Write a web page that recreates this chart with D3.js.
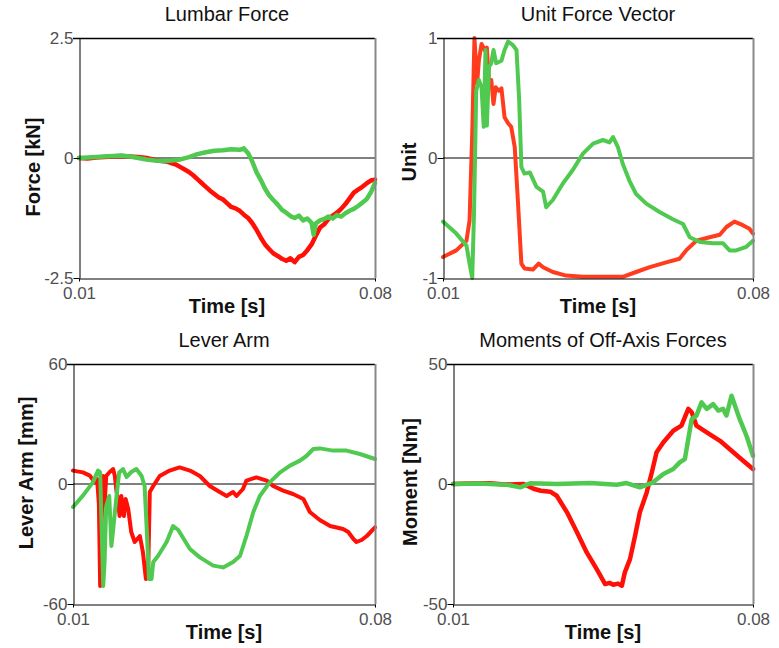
<!DOCTYPE html>
<html>
<head>
<meta charset="utf-8">
<script src="https://cdn.jsdelivr.net/npm/d3@7"></script>
<style>
    body { margin: 0; background: #fff; }
    text { font-family: "Liberation Sans", Arial, sans-serif; }
    .panel-title { font-size: 20px; fill: #111; }
    .axis-title { font-size: 20px; font-weight: bold; fill: #111; }
    .tick text { font-size: 17px; fill: #505050; }
</style>
</head>
<body>
<div id="chart"><svg></svg></div>
<script>
// time in seconds
let lumbarTimeRed = [0.010,0.012,0.014,0.016,0.018,0.020,0.022,0.024,0.026,0.028,0.030,0.031,0.032,0.033,0.034,0.035,0.036,0.037,0.038,0.039,0.040,0.041,0.042,0.043,0.044,0.045,0.046,0.047,0.048,0.049,0.050,0.051,0.052,0.053,0.054,0.055,0.056,0.057,0.058,0.059,0.060,0.061,0.062,0.063,0.064,0.065,0.066,0.067,0.068,0.069,0.070,0.071,0.072,0.073,0.074,0.075,0.076,0.077,0.078,0.079,0.080];
let lumbarRed = [0.00,-0.01,0.01,0.02,0.03,0.04,0.03,0.02,0.00,-0.04,-0.07,-0.08,-0.11,-0.14,-0.19,-0.24,-0.29,-0.36,-0.44,-0.52,-0.60,-0.68,-0.75,-0.82,-0.86,-0.94,-1.02,-1.05,-1.10,-1.18,-1.25,-1.36,-1.50,-1.66,-1.80,-1.90,-1.99,-2.04,-2.10,-2.14,-2.09,-2.17,-2.06,-2.02,-1.92,-1.80,-1.62,-1.45,-1.38,-1.27,-1.20,-1.14,-1.06,-0.96,-0.84,-0.72,-0.66,-0.60,-0.53,-0.47,-0.45];

let lumbarTimeGreen = [0.010,0.012,0.014,0.016,0.018,0.020,0.022,0.024,0.026,0.028,0.030,0.032,0.034,0.036,0.038,0.040,0.042,0.044,0.046,0.048,0.049,0.050,0.051,0.052,0.053,0.054,0.055,0.056,0.057,0.058,0.059,0.060,0.061,0.062,0.063,0.064,0.065,0.0655,0.066,0.067,0.068,0.069,0.070,0.071,0.072,0.073,0.074,0.075,0.076,0.077,0.078,0.079,0.080];
let lumbarGreen = [0.00,0.01,0.02,0.03,0.04,0.05,0.03,0.00,-0.03,-0.05,-0.06,-0.05,-0.03,0.02,0.08,0.12,0.15,0.16,0.18,0.17,0.20,0.10,-0.08,-0.30,-0.46,-0.64,-0.78,-0.88,-0.97,-1.08,-1.14,-1.21,-1.25,-1.20,-1.30,-1.26,-1.35,-1.60,-1.36,-1.30,-1.27,-1.22,-1.26,-1.19,-1.22,-1.15,-1.10,-1.06,-1.00,-0.93,-0.86,-0.72,-0.52];

let unitTimeRed = [0.0100,0.0130,0.0153,0.0160,0.0166,0.0171,0.0177,0.0181,0.0187,0.0194,0.0199,0.0204,0.0209,0.0214,0.0219,0.0226,0.0232,0.0239,0.0247,0.0254,0.0262,0.0269,0.0277,0.0284,0.0303,0.0316,0.0326,0.0348,0.0378,0.0416,0.0461,0.0506,0.0536,0.0567,0.0604,0.0634,0.0649,0.0672,0.0702,0.0725,0.0740,0.0758,0.0777,0.0792,0.0800];
let unitRed = [-0.825,-0.77,-0.69,-0.52,0.20,1.00,0.62,0.81,0.95,0.90,0.92,0.62,0.65,0.45,0.59,0.56,0.58,0.34,0.29,0.26,0.09,-0.35,-0.88,-0.92,-0.93,-0.88,-0.91,-0.95,-0.98,-0.99,-0.99,-0.99,-0.95,-0.91,-0.87,-0.84,-0.77,-0.69,-0.66,-0.64,-0.575,-0.53,-0.56,-0.59,-0.63];

let unitTimeGreen = [0.0100,0.0130,0.0153,0.0160,0.0166,0.0170,0.0175,0.0181,0.0187,0.0192,0.0196,0.0199,0.0204,0.0209,0.0214,0.0220,0.0232,0.0239,0.0247,0.0258,0.0266,0.0272,0.0277,0.0284,0.0296,0.0311,0.0326,0.0333,0.0348,0.0371,0.0393,0.0416,0.0439,0.0461,0.0476,0.0484,0.0495,0.0506,0.0521,0.0536,0.0559,0.0589,0.0619,0.0642,0.0657,0.0680,0.0710,0.0732,0.0747,0.0762,0.0785,0.0800];
let unitGreen = [-0.53,-0.63,-0.73,-0.88,-1.00,-0.46,0.56,0.65,0.59,0.26,0.90,0.27,0.76,0.79,0.90,0.79,0.81,0.90,0.97,0.94,0.90,0.48,-0.075,-0.13,-0.12,-0.24,-0.28,-0.41,-0.35,-0.21,-0.10,0.036,0.12,0.15,0.13,0.175,0.09,-0.05,-0.19,-0.30,-0.38,-0.45,-0.51,-0.55,-0.66,-0.70,-0.71,-0.71,-0.77,-0.77,-0.74,-0.69];

let leverTimeRed = [0.0100,0.0123,0.0139,0.0150,0.0156,0.0160,0.0163,0.0166,0.0170,0.0173,0.0177,0.0185,0.0193,0.0197,0.0201,0.0204,0.0208,0.0212,0.0218,0.0222,0.0228,0.0235,0.0243,0.0255,0.0262,0.0269,0.0274,0.0278,0.0286,0.0301,0.0324,0.0347,0.0371,0.0394,0.0417,0.0440,0.0456,0.0471,0.0479,0.0494,0.0502,0.0525,0.0549,0.0564,0.0587,0.0610,0.0634,0.0649,0.0672,0.0696,0.0726,0.0738,0.0750,0.0757,0.0769,0.0781,0.0800];
let leverRed = [6.7,5.8,4.2,0.8,2.5,-10,-51,-20,4,-11,4,6,7.5,4,-4,-7.5,-16,-6,-16,-7.5,-12.5,-24,-29,-26,-34,-47.5,-46,-4,-1,4,6.7,8.3,6.7,4,-1,-4,-6,-4,-6,-2.5,1.7,3.3,1.7,-1,-3.3,-5,-7.5,-14,-18,-21,-22.5,-24,-27.5,-29,-28,-26,-21.7];

let leverTimeGreen = [0.0100,0.0123,0.0146,0.0158,0.0163,0.0170,0.0173,0.0177,0.0184,0.0189,0.0192,0.0201,0.0207,0.0216,0.0224,0.0235,0.0247,0.0259,0.0266,0.0272,0.0276,0.0282,0.0286,0.0297,0.0317,0.0332,0.0344,0.0371,0.0394,0.0425,0.0448,0.0471,0.0487,0.0502,0.0518,0.0533,0.0556,0.0580,0.0603,0.0626,0.0641,0.0657,0.0672,0.0703,0.0734,0.0765,0.0800];
let leverGreen = [-11.5,-5.8,0.8,6.7,5.8,-51,-40,-11,-6,-31,-25,-6,5.8,7.5,3.5,6,7.5,4,-1,-27.5,-47.5,-47.5,-39,-36,-29,-21,-23,-32.5,-36.7,-40.8,-41.7,-39,-36,-26,-14,-6,0.8,5.8,9.2,11.7,14,17.5,17.8,16.7,16.7,15,12.5];

let momentTimeRed = [0.0100,0.0140,0.0187,0.0220,0.0265,0.0288,0.0305,0.0327,0.0342,0.0366,0.0389,0.0412,0.0435,0.0455,0.0465,0.0474,0.0485,0.0494,0.0501,0.0513,0.0525,0.0536,0.0552,0.0564,0.0575,0.0591,0.0614,0.0633,0.0649,0.0657,0.0668,0.0692,0.0723,0.0754,0.0777,0.0800];
let momentRed = [0,0.2,0.3,-0.2,0,-2,-2.8,-3.2,-4.9,-11.8,-20,-28.5,-35.4,-41.7,-41.2,-42,-41.5,-42.4,-36.8,-31.3,-21.5,-11.8,-3.5,4.9,13.2,17.4,22.2,24.3,31.3,29.9,24.3,21.5,18,13.2,9.7,6.25];

let momentTimeGreen = [0.0100,0.0160,0.0226,0.0257,0.0280,0.0342,0.0420,0.0482,0.0505,0.0536,0.0567,0.0591,0.0614,0.0629,0.0641,0.0649,0.0657,0.0668,0.0680,0.0692,0.0707,0.0719,0.0730,0.0738,0.0750,0.0758,0.0769,0.0785,0.0800];
let momentGreen = [0,0.2,-0.3,-1.4,0.3,0,0.4,-0.3,0.4,-1.4,0.7,4.2,6.25,9,10.4,18.75,27,28.5,34,31.3,33.3,30.6,31.3,28.5,36.8,32.6,27,20,11.8];

let xTicks = [0.01, 0.08];
let xTickLabels = ["0.01", "0.08"];

let panels = [
    {title: "Lumbar Force", yLabel: "Force [kN]", yDomain: [-2.5, 2.5], yTicks: [-2.5, 0, 2.5], yTickLabels: ["-2.5", "0", "2.5"],
     red: "#ff0f05", width: 4.5, series: [[lumbarTimeRed, lumbarRed], [lumbarTimeGreen, lumbarGreen]],
     box: {left: 79, right: 375, top: 38, bottom: 278}, labelX: 40, labelY: 167},
    {title: "Unit Force Vector", yLabel: "Unit", yDomain: [-1, 1], yTicks: [-1, 0, 1], yTickLabels: ["-1", "0", "1"],
     red: "#ff3c1e", width: 4, series: [[unitTimeRed, unitRed], [unitTimeGreen, unitGreen]],
     box: {left: 443, right: 753, top: 38, bottom: 278}, labelX: 416, labelY: 162},
    {title: "Lever Arm", yLabel: "Lever Arm [mm]", yDomain: [-60, 60], yTicks: [-60, 0, 60], yTickLabels: ["-60", "0", "60"],
     red: "#ff0f05", width: 4, series: [[leverTimeRed, leverRed], [leverTimeGreen, leverGreen]],
     box: {left: 73, right: 375, top: 364, bottom: 604}, labelX: 33, labelY: 473},
    {title: "Moments of Off-Axis Forces", yLabel: "Moment [Nm]", yDomain: [-50, 50], yTicks: [-50, 0, 50], yTickLabels: ["-50", "0", "50"],
     red: "#ff0f05", width: 4.5, series: [[momentTimeRed, momentRed], [momentTimeGreen, momentGreen]],
     box: {left: 453, right: 753, top: 364, bottom: 604}, labelX: 417, labelY: 482}
];

let green = "#4fc94f";

let svg = d3.select("#chart").select("svg")
    .attr("width", 779)
    .attr("height", 648);

panels.forEach(function(p){
    let b = p.box;
    let x = d3.scaleLinear().domain([0.01, 0.08]).range([b.left, b.right]);
    let y = d3.scaleLinear().domain(p.yDomain).range([b.bottom, b.top]);
    let g = svg.append("g");

    // zero line
    g.append("line")
        .attr("x1", b.left).attr("x2", b.right)
        .attr("y1", y(0)).attr("y2", y(0))
        .attr("stroke", "#000").attr("stroke-width", 1);

    let line = d3.line()
        .x(function(d){ return x(d[0]); })
        .y(function(d){ return y(d[1]); });

    let colors = [p.red, green];
    p.series.forEach(function(s, i){
        let pts = s[0].map(function(t, k){ return [t, s[1][k]]; });
        g.append("path")
            .datum(pts)
            .attr("d", line)
            .attr("fill", "none")
            .attr("stroke", colors[i])
            .attr("stroke-width", p.width)
            .attr("stroke-linejoin", "round")
            .attr("stroke-linecap", "round");
    });

    // top border
    g.append("line")
        .attr("x1", b.left - 6).attr("x2", b.right)
        .attr("y1", b.top + 0.5).attr("y2", b.top + 0.5)
        .attr("stroke", "#000").attr("stroke-width", 1.3);
    // right border, grey
    g.append("line")
        .attr("x1", b.right + 0.5).attr("x2", b.right + 0.5)
        .attr("y1", b.top).attr("y2", b.bottom)
        .attr("stroke", "#888").attr("stroke-width", 2);

    let yAxis = d3.axisLeft(y)
        .tickValues(p.yTicks)
        .tickFormat(function(d, i){ return p.yTickLabels[i]; })
        .tickSizeInner(6).tickSizeOuter(0).tickPadding(0);
    g.append("g")
        .attr("transform", "translate(" + (b.left + 0.5) + ",0)")
        .call(yAxis)
        .call(function(a){ a.selectAll("text").attr("font-family", null).attr("font-size", null); });

    let xAxis = d3.axisBottom(x)
        .tickValues(xTicks)
        .tickFormat(function(d, i){ return xTickLabels[i]; })
        .tickSizeInner(3).tickSizeOuter(0).tickPadding(5);
    g.append("g")
        .attr("transform", "translate(0," + (b.bottom + 0.5) + ")")
        .call(xAxis)
        .call(function(a){ a.selectAll("text").attr("font-family", null).attr("font-size", null); });

    g.selectAll(".domain").attr("stroke", "#000");

    g.append("text")
        .attr("class", "panel-title")
        .attr("x", (b.left + b.right) / 2)
        .attr("y", b.top - 17)
        .attr("text-anchor", "middle")
        .text(p.title);

    g.append("text")
        .attr("class", "axis-title")
        .attr("x", (b.left + b.right) / 2)
        .attr("y", b.bottom + 35)
        .attr("text-anchor", "middle")
        .text("Time [s]");

    g.append("text")
        .attr("class", "axis-title")
        .attr("transform", "translate(" + p.labelX + "," + p.labelY + ") rotate(-90)")
        .attr("text-anchor", "middle")
        .text(p.yLabel);
});
</script>
</body>
</html>
